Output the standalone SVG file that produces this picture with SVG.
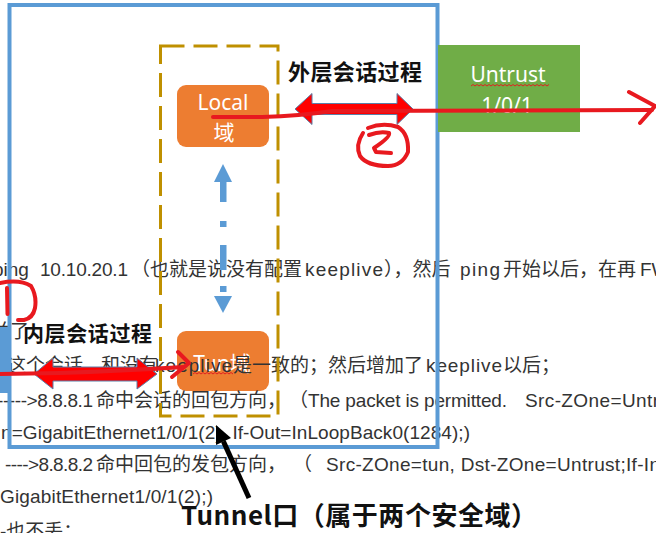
<svg xmlns="http://www.w3.org/2000/svg" width="656" height="533" viewBox="0 0 656 533">
  <defs>
    <style>
      .t { font-family: "Liberation Sans", "Noto Sans CJK SC", sans-serif; font-size: 19px; fill: #333333; }
      .lbl { font-family: "Noto Sans CJK SC", sans-serif; font-weight: bold; fill: #111111; }
      .node { font-family: "Noto Sans", "Noto Sans CJK SC", sans-serif; font-size: 21px; fill: #ffffff; text-anchor: middle; }
      .hand { fill: none; stroke: #E8191F; stroke-width: 4; stroke-linecap: round; stroke-linejoin: round; }
      .wavy { fill: none; stroke: #E02020; stroke-width: 1; }
      .dbl { fill: #FF0000; stroke: #5B7FA8; stroke-width: 1; }
      .blue { fill: #5B9BD5; }
    </style>
  </defs>
  <rect width="656" height="533" fill="#ffffff"/>

  <!-- Tun zone node (sits under the document text) -->
  <g id="tun">
    <rect x="177" y="331" width="92" height="60" rx="9" fill="#ED7D31"/>
    <text class="node" x="222" y="371" font-size="20">Tun域</text>
    <path class="wavy" d="M193,374 l2,-1.5 l2,1.5 l2,-1.5 l2,1.5 l2,-1.5 l2,1.5 l2,-1.5 l2,1.5 l2,-1.5 l2,1.5 l2,-1.5 l2,1.5 l2,-1.5 l2,1.5 l2,-1.5 l2,1.5 l2,-1.5 l2,1.5 l2,-1.5 l2,1.5"/>
  </g>

  <!-- background document text -->
  <g id="doc-text">
    <text class="t" x="-7" y="276">ping</text>
    <text class="t" x="40" y="276" textLength="88" lengthAdjust="spacing">10.10.20.1</text>
    <text class="t" x="131" y="276">（也就是说没有配置</text>
    <text class="t" x="305" y="276" textLength="78" lengthAdjust="spacing">keeplive</text>
    <text class="t" x="384" y="276">），然后</text>
    <text class="t" x="460" y="276" textLength="40" lengthAdjust="spacing">ping</text>
    <text class="t" x="503" y="276">开始以后，在再</text>
    <text class="t" x="640" y="276">FW</text>

    <text class="t" x="-9" y="338">并了</text>

    <text class="t" x="-12" y="372">把这个会话，</text>
    <text class="t" x="101" y="372">和没有</text>
    <text class="t" x="155" y="372" textLength="77" lengthAdjust="spacing">keeplive</text>
    <text class="t" x="233" y="372">是一致的；然后增加了</text>
    <text class="t" x="426" y="372" textLength="76" lengthAdjust="spacing">keeplive</text>
    <text class="t" x="503" y="372">以后；</text>

    <text class="t" x="-3" y="407" textLength="96" lengthAdjust="spacing">-----&gt;8.8.8.1</text>
    <text class="t" x="96" y="407">命中会话的回包方向，</text>
    <text class="t" x="289" y="407">（</text>
    <text class="t" x="308" y="407" textLength="199" lengthAdjust="spacing">The packet is permitted.</text>
    <text class="t" x="525" y="407" textLength="134" lengthAdjust="spacing">Src-ZOne=Untr</text>

    <text class="t" x="1" y="439" textLength="469" lengthAdjust="spacing">n=GigabitEthernet1/0/1(2), If-Out=InLoopBack0(1284);)</text>

    <text class="t" x="5" y="471" textLength="88" lengthAdjust="spacing">----&gt;8.8.8.2</text>
    <text class="t" x="96" y="471">命中回包的发包方向，</text>
    <text class="t" x="293" y="471">（</text>
    <text class="t" x="326" y="471" textLength="334" lengthAdjust="spacing">Src-ZOne=tun, Dst-ZOne=Untrust;If-In</text>

    <text class="t" x="0" y="503" textLength="213" lengthAdjust="spacing">GigabitEthernet1/0/1(2);)</text>

    <text class="t" x="0" y="538">-也不丢；</text>
  </g>

  <!-- firewall frame -->
  <g id="firewall">
    <rect x="9.5" y="5" width="428" height="442" fill="none" stroke="#5B9BD5" stroke-width="4"/>
    <rect class="blue" x="0" y="327" width="11" height="66"/>
  </g>

  <!-- tunnel interface (dashed) -->
  <g id="tunnel-interface">
    <rect x="160.5" y="46" width="117.5" height="370" fill="none" stroke="#BF9000" stroke-width="3" stroke-dasharray="24 9"/>
  </g>

  <g id="local">
    <rect x="177" y="85" width="92" height="62" rx="9" fill="#ED7D31"/>
    <text class="node" x="223" y="110">Local</text>
    <text class="node" x="224" y="140">域</text>
  </g>

  <g id="untrust">
    <rect x="438" y="45" width="142" height="87" fill="#70AD47"/>
    <text class="node" x="508" y="82">Untrust</text>
    <path class="wavy" d="M471,86 l2,-1.5 l2,1.5 l2,-1.5 l2,1.5 l2,-1.5 l2,1.5 l2,-1.5 l2,1.5 l2,-1.5 l2,1.5 l2,-1.5 l2,1.5 l2,-1.5 l2,1.5 l2,-1.5 l2,1.5 l2,-1.5 l2,1.5 l2,-1.5 l2,1.5 l2,-1.5 l2,1.5 l2,-1.5 l2,1.5 l2,-1.5 l2,1.5 l2,-1.5 l2,1.5 l2,-1.5 l2,1.5 l2,-1.5 l2,1.5 l2,-1.5 l2,1.5 l2,-1.5 l2,1.5 l2,-1.5 l2,1.5 l2,-1.5"/>
    <text class="node" x="507" y="113">1/0/1</text>
  </g>

  <g id="connectors">
    <!-- blue dash-dot bidirectional arrow Local <-> Tun -->
    <g class="blue">
      <polygon points="214,182 223,164 232,182"/>
      <rect x="220" y="181" width="6.5" height="21"/>
      <rect x="220" y="221" width="6.5" height="6"/>
      <rect x="220" y="245" width="6.5" height="25"/>
      <rect x="220" y="286" width="6.5" height="6"/>
      <polygon points="214,296 232,296 223,313"/>
    </g>
    <!-- outer session double arrow -->
    <polygon class="dbl" points="295,109 312,93.5 312,103.5 397,103.5 397,93.5 413,109 397,124.5 397,114.5 312,114.5 312,124.5"/>
    <!-- inner session double arrow -->
    <polygon class="dbl" points="34,374 53,358 53,367 137,367 137,358 157,374 137,389 137,381 53,381 53,389"/>
    <!-- hand drawn red path: Local -> Untrust -> out -->
    <path class="hand" d="M213,117 L262,117 Q300,116 332,111 L652,110"/>
    <path class="hand" d="M629,92 L655,106 L640,123"/>
    <!-- hand drawn red path: inside -> Tun -->
    <path class="hand" d="M0,374 L60,373 Q120,371 184,367"/>
    <path class="hand" d="M178,352 L189,363 L172,377"/>
    <!-- black arrow pointing at tunnel interface -->
    <line x1="249" y1="498" x2="223.4" y2="441.4" stroke="#000" stroke-width="5"/>
    <polygon points="216,425 231,438 216,445" fill="#000"/>
  </g>

  <!-- hand drawn annotations -->
  <g id="annotations">
    <path class="hand" d="M368,128 Q383,122 398,127 Q409,134 408,152 Q402,166 388,166 Q367,166 360,156 Q355,145 363,133"/>
    <path class="hand" d="M369,135 Q380,131 389,133 Q391,137 374,148 L376,152 L391,153"/>
    <path class="hand" d="M0,283 Q20,279 31,286 Q37,296 35,308 Q33,318 24,320 L18,320"/>
    <path class="hand" d="M7,288 L7.5,314"/>
  </g>

  <!-- bold labels -->
  <g id="labels">
    <text class="lbl" x="288" y="80" font-size="22" textLength="134" lengthAdjust="spacing">外层会话过程</text>
    <text class="lbl" x="23" y="341" font-size="21" textLength="129" lengthAdjust="spacing">内层会话过程</text>
    <text class="lbl" x="181" y="525" font-size="26" textLength="356" lengthAdjust="spacing">Tunnel口（属于两个安全域）</text>
  </g>
</svg>
